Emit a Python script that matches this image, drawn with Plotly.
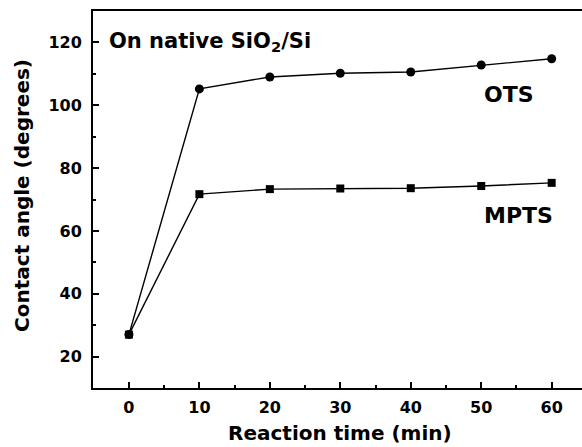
import plotly.graph_objects as go

time_min = [0, 10, 20, 30, 40, 50, 60]
ots_angle = [27.0, 105.2, 109.0, 110.2, 110.6, 112.8, 114.8]
mpts_angle = [27.0, 71.7, 73.3, 73.5, 73.6, 74.3, 75.3]
x_ticks = [0, 10, 20, 30, 40, 50, 60]
y_ticks = [20, 40, 60, 80, 100, 120]

FONT = "DejaVu Sans"

fig = go.Figure()
fig.add_trace(go.Scatter(
    x=time_min, y=ots_angle, mode="lines+markers", name="OTS",
    line=dict(color="black", width=1.4),
    marker=dict(symbol="circle", size=9, color="black"),
))
fig.add_trace(go.Scatter(
    x=time_min, y=mpts_angle, mode="lines+markers", name="MPTS",
    line=dict(color="black", width=1.4),
    marker=dict(symbol="square", size=8, color="black"),
))

fig.add_annotation(x=-3.1, y=120, xref="x", yref="y", xanchor="left", yanchor="middle",
                   text="<b>On native SiO<sub>2</sub>/Si</b>", showarrow=False,
                   font=dict(family=FONT, size=21, color="black"))
fig.add_annotation(x=50.1, y=103.4, xref="x", yref="y", xanchor="left", yanchor="middle",
                   text="<b>OTS</b>", showarrow=False,
                   font=dict(family=FONT, size=22, color="black"))
fig.add_annotation(x=50.1, y=65, xref="x", yref="y", xanchor="left", yanchor="middle",
                   text="<b>MPTS</b>", showarrow=False,
                   font=dict(family=FONT, size=22, color="black"))
# axis titles
fig.add_annotation(x=0.497, y=-0.119, xref="paper", yref="paper", xanchor="center", yanchor="middle",
                   text="<b>Reaction time (min)</b>", showarrow=False,
                   font=dict(family=FONT, size=20, color="black"))
fig.add_annotation(x=-0.143, y=0.512, xref="paper", yref="paper", xanchor="center", yanchor="middle",
                   text="<b>Contact angle (degrees)</b>", showarrow=False, textangle=-90,
                   font=dict(family=FONT, size=20, color="black"))

fig.update_layout(
    width=590, height=447,
    margin=dict(l=93, r=0, t=11, b=59, autoexpand=False),
    paper_bgcolor="white", plot_bgcolor="white",
    showlegend=False,
    font=dict(family=FONT, color="black"),
)
fig.update_xaxes(
    range=[-5.1, 65.44], tickvals=x_ticks, ticktext=[f"<b>{v}</b>" for v in x_ticks],
    showline=True, linecolor="black", linewidth=2, mirror=True,
    ticks="inside", ticklen=6, tickwidth=1.5, tickcolor="black",
    minor=dict(dtick=5, tick0=5, ticks="inside", ticklen=3, tickwidth=1.5, tickcolor="black"),
    showgrid=False, zeroline=False, automargin=False,
    tickfont=dict(family=FONT, size=16, color="black"),
    ticklabelstandoff=4,
)
fig.update_yaxes(
    range=[10, 130], tickvals=y_ticks, ticktext=[f"<b>{v}</b>" for v in y_ticks],
    showline=True, linecolor="black", linewidth=2, mirror=False,
    ticks="inside", ticklen=6, tickwidth=1.5, tickcolor="black",
    minor=dict(dtick=20, tick0=10, ticks="inside", ticklen=3, tickwidth=1.5, tickcolor="black"),
    showgrid=False, zeroline=False, automargin=False,
    tickfont=dict(family=FONT, size=16, color="black"),
    ticklabelstandoff=6,
)

fig.write_html("out.html", config={"displayModeBar": False},
               post_script="document.body.style.margin='0';document.body.style.overflow='hidden';")
